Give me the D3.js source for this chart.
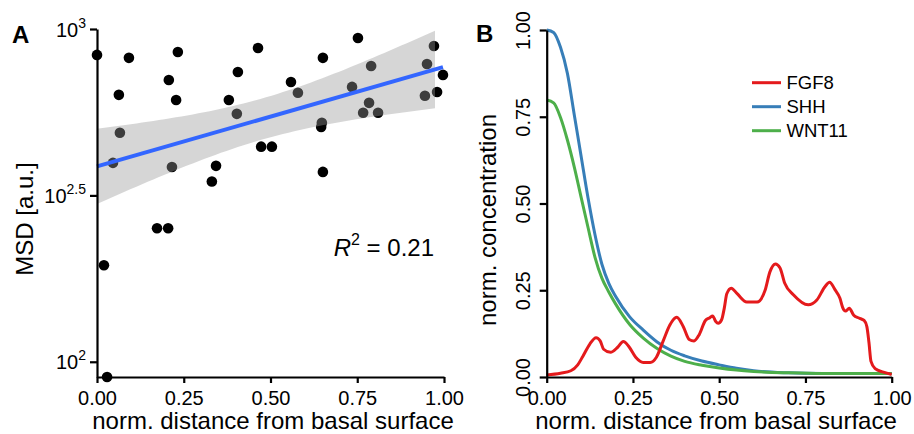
<!DOCTYPE html>
<html>
<head>
<meta charset="utf-8">
<script src="https://cdn.jsdelivr.net/npm/d3@7"></script>
<style>
  body { margin: 0; background: #fff; }
  svg { display: block; }
</style>
</head>
<body>
<script>
// ---- panel A: distance from basal surface vs MSD ----
const distA = [0, 0.092, 0.063, 0.066, 0.046, 0.207, 0.233, 0.228, 0.216, 0.331,
  0.343, 0.406, 0.380, 0.403, 0.464, 0.473, 0.504, 0.559, 0.579, 0.651,
  0.648, 0.646, 0.651, 0.752, 0.790, 0.735, 0.784, 0.767, 0.810, 0.971,
  0.951, 0.997, 0.945, 0.980, 0.173, 0.205, 0.020, 0.029]
const msdA = [836, 819, 634, 488, 396, 703, 853, 612, 385, 348,
  388, 743, 612, 556, 877, 443, 443, 693, 643, 819,
  523, 508, 372, 940, 774, 670, 600, 560, 560, 889,
  785, 728, 630, 647, 252, 252, 195, 90]
const msdDomain = [90, 1000]
const msdTickExp = [2, 2.5, 3]
const distTicks = [0, 0.25, 0.5, 0.75, 1]
const bandRange = [0, 0.974]
const tCrit = 2.028   // t(0.975, df = 36)
const r2Text = '0.21'

// ---- panel B: modelled gradients ----
const genes = ['FGF8', 'SHH', 'WNT11']
const geneColors = ['#E41A1C', '#377EB8', '#4DAF4A']
const gradX = [0, 0.02, 0.04, 0.06, 0.08, 0.10, 0.12, 0.14, 0.16, 0.18, 0.20,
  0.24, 0.28, 0.32, 0.36, 0.40, 0.45, 0.50, 0.55, 0.60, 0.70, 0.80, 1.00]
const shhY = [1.0, 0.993, 0.95, 0.875, 0.755, 0.635, 0.515, 0.41, 0.325, 0.27, 0.232,
  0.174, 0.135, 0.101, 0.077, 0.061, 0.046, 0.035, 0.025, 0.018, 0.012, 0.01, 0.01]
const wnt11Y = [0.798, 0.79, 0.748, 0.683, 0.605, 0.517, 0.43, 0.345, 0.285, 0.245, 0.21,
  0.152, 0.112, 0.082, 0.06, 0.045, 0.034, 0.026, 0.02, 0.016, 0.012, 0.01, 0.01]
const fgf8X = [0, 0.04, 0.07, 0.09, 0.105, 0.125, 0.143, 0.155, 0.165, 0.185, 0.205,
  0.222, 0.238, 0.258, 0.28, 0.30, 0.318, 0.338, 0.357, 0.377, 0.396, 0.413, 0.427,
  0.442, 0.46, 0.473, 0.481, 0.49, 0.497, 0.507, 0.515, 0.522, 0.535, 0.552, 0.58,
  0.61, 0.633, 0.647, 0.663, 0.676, 0.69, 0.715, 0.758, 0.783, 0.807, 0.82, 0.836,
  0.85, 0.858, 0.866, 0.877, 0.89, 0.905, 0.92, 0.928, 0.934, 0.94, 0.952, 0.976, 1.0]
const fgf8Y = [0.006, 0.011, 0.018, 0.035, 0.06, 0.095, 0.113, 0.104, 0.08, 0.071, 0.085,
  0.102, 0.088, 0.057, 0.042, 0.042, 0.057, 0.105, 0.15, 0.172, 0.145, 0.108, 0.104,
  0.122, 0.163, 0.171, 0.176, 0.16, 0.155, 0.165, 0.2, 0.24, 0.256, 0.24, 0.216,
  0.216, 0.25, 0.303, 0.326, 0.315, 0.27, 0.237, 0.208, 0.222, 0.261, 0.273, 0.251,
  0.227, 0.2, 0.19, 0.198, 0.178, 0.17, 0.163, 0.145, 0.1, 0.045, 0.024, 0.014, 0.007]
const concTicks = [0, 0.25, 0.5, 0.75, 1]

const W = 914, H = 434
const font = "'Liberation Sans', Arial, sans-serif"

const svg = d3.select('body').append('svg')
  .attr('width', W).attr('height', H)
  .style('font-family', font)

function styleAxis(g) {
  g.select('.domain').attr('stroke', '#000').attr('stroke-width', 2.2)
  g.selectAll('.tick line').attr('stroke', '#000').attr('stroke-width', 2.2)
  g.selectAll('.tick text').attr('fill', '#000')
}

// ================= panel A =================
const xA = d3.scaleLinear().domain([0, 1]).range([97, 444])
const yA = d3.scaleLog().domain(msdDomain).range([377, 29])

// linear fit in log space, like geom_smooth(method = 'lm')
const pts = distA.map((d, i) => ({ x: d, y: Math.log10(msdA[i]), v: msdA[i] }))
const n = pts.length
const mx = d3.mean(pts, d => d.x), my = d3.mean(pts, d => d.y)
const sxx = d3.sum(pts, d => (d.x - mx) ** 2)
const sxy = d3.sum(pts, d => (d.x - mx) * (d.y - my))
const slope = sxy / sxx, icpt = my - slope * mx
const sse = d3.sum(pts, d => (d.y - icpt - slope * d.x) ** 2)
const sRes = Math.sqrt(sse / (n - 2))
const fitAt = x => icpt + slope * x
const seAt = x => sRes * Math.sqrt(1 / n + (x - mx) ** 2 / sxx)

const gA = svg.append('g')

gA.selectAll('circle.pt').data(pts).join('circle')
  .attr('class', 'pt')
  .attr('cx', d => xA(d.x)).attr('cy', d => yA(d.v))
  .attr('r', 5.3).attr('fill', '#000')

const bandXs = d3.range(0, 61).map(i => bandRange[0] + (bandRange[1] - bandRange[0]) * i / 60)
gA.append('path')
  .datum(bandXs)
  .attr('fill', '#999999').attr('fill-opacity', 0.4)
  .attr('d', d3.area()
    .x(x => xA(x))
    .y0(x => yA(10 ** (fitAt(x) - tCrit * seAt(x))))
    .y1(x => yA(10 ** (fitAt(x) + tCrit * seAt(x)))))

const xExt = d3.extent(distA)
gA.append('path')
  .datum(xExt)
  .attr('fill', 'none').attr('stroke', '#3366FF').attr('stroke-width', 4)
  .attr('d', d3.line().x(x => xA(x)).y(x => yA(10 ** fitAt(x))))

const axAx = gA.append('g').attr('transform', 'translate(0,377)')
  .call(d3.axisBottom(xA).tickValues(distTicks).tickFormat(d3.format('.2f'))
    .tickSize(6).tickSizeOuter(0).tickPadding(8))
axAx.attr('font-size', 20).attr('font-family', font)
styleAxis(axAx)

const axAy = gA.append('g').attr('transform', 'translate(97,0)')
  .call(d3.axisLeft(yA).tickValues(msdTickExp.map(e => 10 ** e))
    .tickFormat('').tickSize(7).tickSizeOuter(0))
styleAxis(axAy)
axAy.selectAll('.tick').each(function (d, i) {
  const t = d3.select(this).append('text')
    .attr('x', -11).attr('y', 7).attr('text-anchor', 'end')
    .attr('font-size', 20).attr('fill', '#000')
  t.append('tspan').text('10')
  t.append('tspan').attr('dy', -9).attr('font-size', 14).text(String(msdTickExp[i]))
})

gA.append('text').attr('x', 12).attr('y', 42.5)
  .attr('font-size', 24).attr('font-weight', 'bold').text('A')

gA.append('text').attr('x', 273).attr('y', 429).attr('text-anchor', 'middle')
  .attr('font-size', 24).text('norm. distance from basal surface')

gA.append('text').attr('transform', 'translate(33,219) rotate(-90)')
  .attr('text-anchor', 'middle').attr('font-size', 24).text('MSD [a.u.]')

const r2 = gA.append('text').attr('x', 434).attr('y', 256)
  .attr('text-anchor', 'end').attr('font-size', 24)
r2.append('tspan').attr('font-style', 'italic').text('R')
r2.append('tspan').attr('dy', -11).attr('font-size', 16).text('2')
r2.append('tspan').attr('dy', 11).text(' = ' + r2Text)

// ================= panel B =================
const xB = d3.scaleLinear().domain([0, 1]).range([546.7, 891.7])
const yB = d3.scaleLinear().domain([0, 1]).range([377, 30])

const gB = svg.append('g')
const series = [
  { name: 'FGF8', xs: fgf8X, ys: fgf8Y },
  { name: 'SHH', xs: gradX, ys: shhY },
  { name: 'WNT11', xs: gradX, ys: wnt11Y }
]
const lineB = d3.line().x(d => xB(d[0])).y(d => yB(d[1])).curve(d3.curveMonotoneX)

// red sits on top where the curves cross
;[1, 2, 0].forEach(k => {
  const s = series[k]
  gB.append('path')
    .datum(s.xs.map((x, i) => [x, s.ys[i]]))
    .attr('fill', 'none').attr('stroke', geneColors[k]).attr('stroke-width', 3)
    .attr('stroke-linejoin', 'round')
    .attr('d', lineB)
})

const axBx = gB.append('g').attr('transform', 'translate(0,377)')
  .call(d3.axisBottom(xB).tickValues(concTicks).tickFormat(d3.format('.2f'))
    .tickSize(6).tickSizeOuter(0).tickPadding(8))
axBx.attr('font-size', 20).attr('font-family', font)
styleAxis(axBx)

const axBy = gB.append('g').attr('transform', 'translate(546.7,0)')
  .call(d3.axisLeft(yB).tickValues(concTicks).tickFormat(d3.format('.2f'))
    .tickSize(7).tickSizeOuter(0))
axBy.attr('font-size', 20).attr('font-family', font)
styleAxis(axBy)
axBy.selectAll('.tick text')
  .attr('x', null).attr('dy', null)
  .attr('text-anchor', 'middle')
  .attr('transform', 'translate(-16.5,0) rotate(-90)')

gB.append('text').attr('x', 476).attr('y', 42)
  .attr('font-size', 24).attr('font-weight', 'bold').text('B')

gB.append('text').attr('x', 716).attr('y', 429).attr('text-anchor', 'middle')
  .attr('font-size', 24).text('norm. distance from basal surface')

gB.append('text').attr('transform', 'translate(496,220) rotate(-90)')
  .attr('text-anchor', 'middle').attr('font-size', 24).text('norm. concentration')

// legend
const leg = gB.append('g').attr('transform', 'translate(752,82.7)')
genes.forEach((g, i) => {
  const row = leg.append('g').attr('transform', `translate(0,${i * 24})`)
  row.append('line').attr('x1', 0).attr('x2', 29).attr('y1', 0).attr('y2', 0)
    .attr('stroke', geneColors[i]).attr('stroke-width', 3)
  row.append('text').attr('x', 34.5).attr('y', 6.3)
    .attr('font-size', 18.5).text(g)
})
</script>
</body>
</html>
